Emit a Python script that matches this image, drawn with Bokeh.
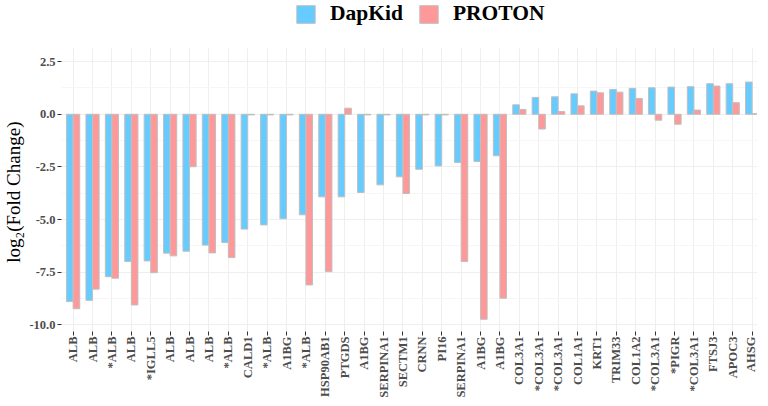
import math
from bokeh.plotting import figure
from bokeh.models import (ColumnDataSource, Range1d, FixedTicker, Legend, LegendItem, BoxAnnotation)
from bokeh.transform import dodge
from bokeh.embed import file_html
from bokeh.resources import INLINE

genes = ["ALB", "ALB", "*ALB", "ALB", "*IGLL5", "ALB", "ALB", "ALB", "*ALB", "CALD1",
         "*ALB", "A1BG", "*ALB", "HSP90AB1", "PTGDS", "A1BG", "SERPINA1", "SECTM1", "CRNN", "PI16",
         "SERPINA1", "A1BG", "A1BG", "COL3A1", "*COL3A1", "*COL3A1", "COL1A1", "KRT1", "TRIM33", "COL1A2",
         "*COL3A1", "*PIGR", "*COL3A1", "FTSJ3", "APOC3", "AHSG"]
dapkid = [-8.89, -8.83, -7.71, -6.99, -6.96, -6.59, -6.50, -6.21, -6.09, -5.45,
          -5.25, -4.96, -4.77, -3.92, -3.92, -3.71, -3.35, -2.97, -2.61, -2.45,
          -2.29, -2.24, -1.97, 0.45, 0.80, 0.83, 0.97, 1.10, 1.18, 1.23,
          1.26, 1.29, 1.31, 1.45, 1.45, 1.53]
proton = [-9.23, -8.30, -7.78, -9.05, -7.52, -6.72, -2.49, -6.58, -6.80, -0.03,
          -0.03, -0.03, -8.10, -7.47, 0.29, -0.03, -0.03, -3.76, -0.03, -0.03,
          -6.99, -9.73, -8.73, 0.23, -0.70, 0.13, 0.40, 1.02, 1.05, 0.75,
          -0.28, -0.47, 0.20, 1.34, 0.55, 0.03]
y_ticks = [-10.0, -7.5, -5.0, -2.5, 0.0, 2.5]
y_tick_labels = ["-10.0", "-7.5", "-5.0", "-2.5", "0.0", "2.5"]
series_names = ["DapKid", "PROTON"]
y_title = "log\u2082(Fold Change)"

idx = list(range(len(genes)))
src = ColumnDataSource(dict(x=idx, dapkid=dapkid, proton=proton))

# panel limits (data units); the frame is extended upward to host the legend
Y_LO, Y_HI = -10.31, 3.17
PX_PER_UNIT = 21.068
TOP = 47
FW, FH = 696, 284 + TOP
p = figure(frame_width=FW, frame_height=FH, output_backend="svg", toolbar_location=None,
           x_range=Range1d(-0.6, -0.6 + FW / 19.4), y_range=Range1d(Y_LO, Y_HI + TOP / PX_PER_UNIT),
           min_border_left=56, min_border_right=0, min_border_top=0, min_border_bottom=50)
p.outline_line_color = None
p.background_fill_color = "white"

blue = "#66CCFF"
red = "#FF9999"
r1 = p.vbar(x=dodge("x", -0.17), top="dapkid", bottom=0, width=0.34, source=src,
            fill_color=blue, line_color="#BFBFBF", line_width=1)
r2 = p.vbar(x=dodge("x", 0.17), top="proton", bottom=0, width=0.34, source=src,
            fill_color=red, line_color="#BFBFBF", line_width=1)

# axes
p.xaxis.ticker = FixedTicker(ticks=idx)
p.xaxis.major_label_overrides = {i: g for i, g in enumerate(genes)}
p.xaxis.major_label_orientation = math.pi / 2
p.yaxis.ticker = FixedTicker(ticks=y_ticks,
                             minor_ticks=[-8.75, -6.25, -3.75, -1.25, 1.25])
p.yaxis.major_label_overrides = {t: l for t, l in zip(y_ticks, y_tick_labels)}
p.yaxis.bounds = (Y_LO, Y_HI)
for ax in (p.xaxis, p.yaxis):
    ax.axis_line_color = None
    ax.major_tick_out = 4
    ax.major_tick_in = 0
    ax.minor_tick_out = 0
    ax.minor_tick_in = 0
    ax.major_tick_line_color = "#333333"
    ax.major_label_text_font = "Liberation Serif"
    ax.major_label_text_font_style = "bold"
    ax.major_label_text_font_size = "12.5px"
    ax.major_label_text_color = "#4D4D4D"
    ax.major_label_standoff = 2
p.xaxis.major_label_standoff = 1
# trailing no-break spaces centre the rotated title on the panel (not on the legend strip)
p.yaxis.axis_label = y_title + "\u00a0" * 11
p.yaxis.axis_label_text_font = "Liberation Serif"
p.yaxis.axis_label_text_font_style = "normal"
p.yaxis.axis_label_text_font_size = "19px"
p.yaxis.axis_label_text_color = "black"
p.yaxis.axis_label_standoff = 2

# grid
p.xgrid.grid_line_color = "#EFEFEF"
p.ygrid.grid_line_color = "#EFEFEF"
p.ygrid.minor_grid_line_color = "#F6F6F6"

# blank strip above the panel (covers grid lines where the legend sits)
p.add_layout(BoxAnnotation(bottom=Y_HI, fill_color="white", fill_alpha=1.0,
                           line_color=None, level="underlay"))

legend = Legend(items=[LegendItem(label=series_names[0], renderers=[r1]),
                       LegendItem(label=series_names[1], renderers=[r2])],
                orientation="horizontal", location=(233, FH - 26),
                padding=0, margin=0, spacing=14, label_standoff=13,
                glyph_width=23, glyph_height=22, label_height=22,
                label_text_font="Liberation Serif", label_text_font_style="bold",
                label_text_font_size="21.5px", label_text_color="black",
                border_line_color=None, background_fill_alpha=0)
p.add_layout(legend, "center")

open("out.html", "w").write(file_html(p, INLINE))
